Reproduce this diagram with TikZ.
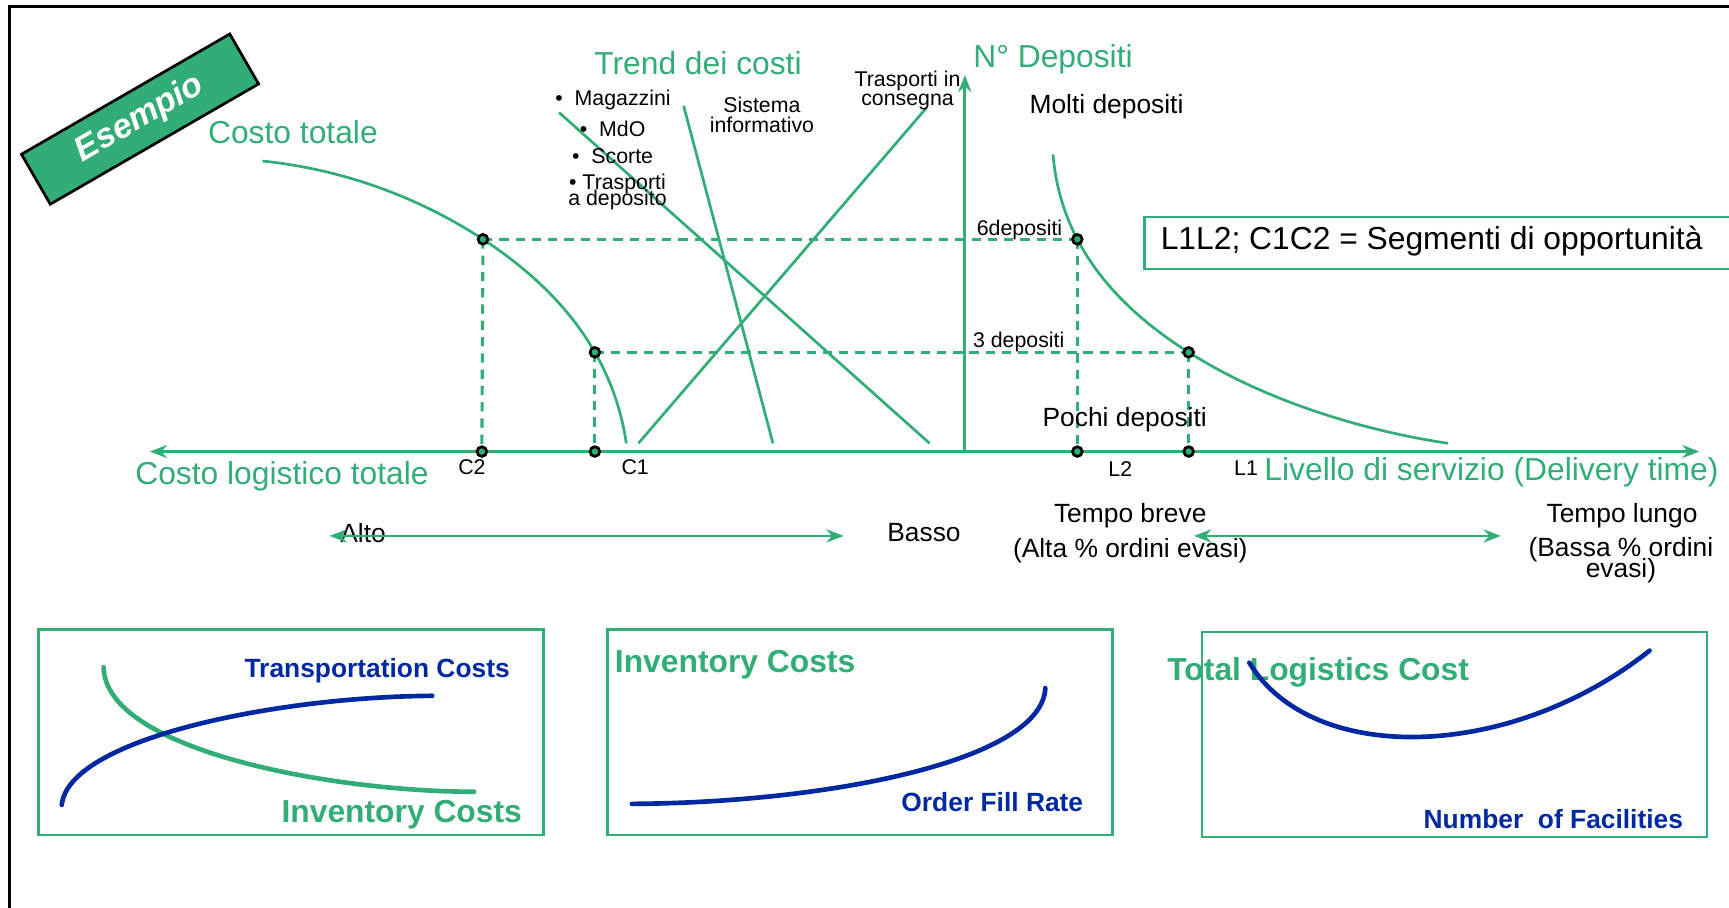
\documentclass[tikz,border=0pt]{standalone}
\usepackage{fontspec}
\setmainfont{Liberation Sans}
\usepackage{xcolor}
\usetikzlibrary{arrows.meta}
\usetikzlibrary{positioning}
\usetikzlibrary{hobby}
\definecolor{verde}{RGB}{50,173,120}
\definecolor{blu}{RGB}{0,40,160}
\newcommand{\stretto}{\lineskiplimit=-5pt\relax}

\begin{document}
\begin{tikzpicture}[x=0.01cm,y=-0.01cm,
	linea/.style={verde, line width=0.7pt},
	tratteggio/.style={verde, line width=0.8pt, dash pattern=on 2.4pt off 1.8pt},
	freccia/.style={verde, line width=0.7pt, arrows={-Stealth[length=4.4pt,width=3.4pt]}},
	doppia/.style={verde, line width=0.7pt, arrows={Stealth[length=4.4pt,width=3.4pt]-Stealth[length=4.4pt,width=3.4pt]}},
	punto/.style={fill=verde, draw=black, line width=0.7pt},
	titolo/.style={verde, inner sep=0pt, font=\fontsize{8.2}{9}\selectfont},
	testo/.style={black, inner sep=0pt, align=center, font=\fontsize{6.8}{5.4}\selectfont\stretto},
	piccolo/.style={black, inner sep=0pt, align=center, font=\fontsize{5.5}{5}\selectfont\stretto},
	riquadro/.style={verde, line width=0.6pt},
	curvablu/.style={blu, line width=1.2pt, line cap=round},
	curvaverde/.style={verde, line width=1.2pt, line cap=round},
	etichettablu/.style={blu, inner sep=0pt, font=\fontsize{6.8}{8}\selectfont\bfseries},
	etichettaverde/.style={verde, inner sep=0pt, font=\fontsize{8.2}{9}\selectfont\bfseries}]
	\useasboundingbox (0,0) rectangle (1568,823);
	\clip (0,0) rectangle (1568,823);
	% frame
	\draw[black, line width=0.8pt] (9,5.5) rectangle (1600,900);
	% banner
	\node[rotate=30, fill=verde, draw=black, line width=0.7pt, minimum width=2.18cm, minimum height=0.42cm,
		text=white, font=\fontsize{8.8}{9}\selectfont\bfseries\itshape] (esempio) at (127,108) {Esempio};
	
	% points
	\coordinate (c2) at (437,409.5);
	\coordinate (c1) at (539.5,409.5);
	\coordinate (l2) at (977,409.5);
	\coordinate (l1) at (1078,409.5);
	\coordinate (sei) at (438,217);
	\coordinate (tre) at (539.5,319.5);
	\coordinate (seiD) at (977,217);
	\coordinate (treD) at (1078,319.5);
	
	% draw axes
	\draw[doppia] (136,409.5) -- (1541,409.5);
	\draw[freccia] (875,409.5) -- (875,68);
	
	% cost trends
	\draw[linea] (507,102) -- (843,402);
	\draw[linea] (620,96) -- (701,402);
	\draw[linea] (840,98) -- (579,402);
	\draw[linea, use Hobby shortcut] (238,146) .. (sei) .. (tre) .. (568,402);
	\draw[linea, use Hobby shortcut] (955,140) .. (seiD) .. (treD) .. (1202,376) .. (1313,402);
	
	% dashed lines
	\draw[tratteggio] (sei) -- (seiD);
	\draw[tratteggio] (tre) -- (treD);
	\draw[tratteggio] (sei) -- (c2);
	\draw[tratteggio] (tre) -- (c1);
	\draw[tratteggio] (seiD) -- (l2);
	\draw[tratteggio] (treD) -- (l1);
	\foreach \p in {c2,c1,l2,l1,sei,tre,seiD,treD}
		\filldraw[punto] (\p) circle (1.25pt);
	
	% labels
	\node[titolo, anchor=west] (ctot) at (188,120) {Costo totale};
	\node[titolo] (trend) at (633,57) {Trend dei costi};
	\node[titolo, anchor=west] (ndep) at (882,54) {N° Depositi};
	\node[testo, anchor=west] (molti) at (933,97) {Molti depositi};
	\node[piccolo, anchor=east] (mag) at (609,91) {•\ \ Magazzini};
	\node[piccolo, anchor=east] (mdo) at (586,117) {•\ \ MdO};
	\node[piccolo, anchor=east] (scorte) at (593,142) {•\ \ Scorte};
	\node[piccolo, font=\fontsize{5.5}{4}\selectfont\stretto] (trdep) at (560,174) {• Trasporti\\a deposito};
	\node[piccolo] (sist) at (691,104) {Sistema\\informativo};
	\node[piccolo] (trcons) at (823,82) {Trasporti in\\consegna};
	\node[piccolo, anchor=east] (lab6) at (964,209) {6depositi};
	\node[piccolo, anchor=east] (lab3) at (966,310) {3 depositi};
	\node[testo] (pochi) at (1020,381) {Pochi depositi};
	\node[piccolo] (labc2) at (428,424) {C2};
	\node[piccolo] (labc1) at (576,424) {C1};
	\node[piccolo] (labl2) at (1016,425) {L2};
	\node[piccolo] (labl1) at (1130,425) {L1};
	\node[titolo, anchor=west] (clt) at (122,432) {Costo logistico totale};
	\node[titolo, anchor=west] (lds) at (1146,428) {Livello di servizio (Delivery time)};
	
	% opportunity box
	\draw[riquadro] (1038,197) rectangle (1590,244);
	\node[black, inner sep=0pt, font=\fontsize{8.2}{9}\selectfont, anchor=west] (segm) at (1052,219) {L1L2; C1C2 = Segmenti di opportunità};
	
	% high / low
	\node[testo, anchor=west] (alto) at (308,483) {Alto};
	\node[testo, anchor=west] (basso) at (804,483) {Basso};
	\draw[doppia] (299,486) -- (765,486);
	\node[testo] (breve) at (1025,468) {Tempo breve};
	\node[testo] (alta) at (1025,499) {(Alta \% ordini evasi)};
	\draw[doppia] (1083,486) -- (1361,486);
	\node[testo] (lungo) at (1471,468) {Tempo lungo};
	\node[testo] (bassa) at (1470,508) {(Bassa \% ordini\\evasi)};
	
	% box 1
	\draw[riquadro] (35,571) rectangle (493,757);
	\node[etichettablu, anchor=east] (trc) at (463,608) {Transportation Costs};
	\node[etichettaverde, anchor=east] (invc) at (474,739) {Inventory Costs};
	\draw[curvaverde] (94,605) .. controls (95,680) and (300,718) .. (430,718);
	\draw[curvablu] (56,730) .. controls (62,670) and (250,632) .. (392,631);
	
	% box 2
	\draw[riquadro] (551,571) rectangle (1009,757);
	\node[etichettaverde, anchor=west] (invc2) at (557,603) {Inventory Costs};
	\node[etichettablu, anchor=east] (ofr) at (983,727) {Order Fill Rate};
	\draw[curvablu] (573,729) .. controls (750,728) and (945,690) .. (948,624);
	
	% box 3
	\draw[riquadro] (1090,573) rectangle (1548,759);
	\node[etichettaverde, anchor=west] (tlc) at (1058,610) {Total Logistics Cost};
	\node[etichettablu, anchor=east] (nof) at (1527,743) {Number\ \ of Facilities};
	\draw[curvablu] (1133,601) .. controls (1190,695) and (1370,690) .. (1496,590);
\end{tikzpicture}
\end{document}
